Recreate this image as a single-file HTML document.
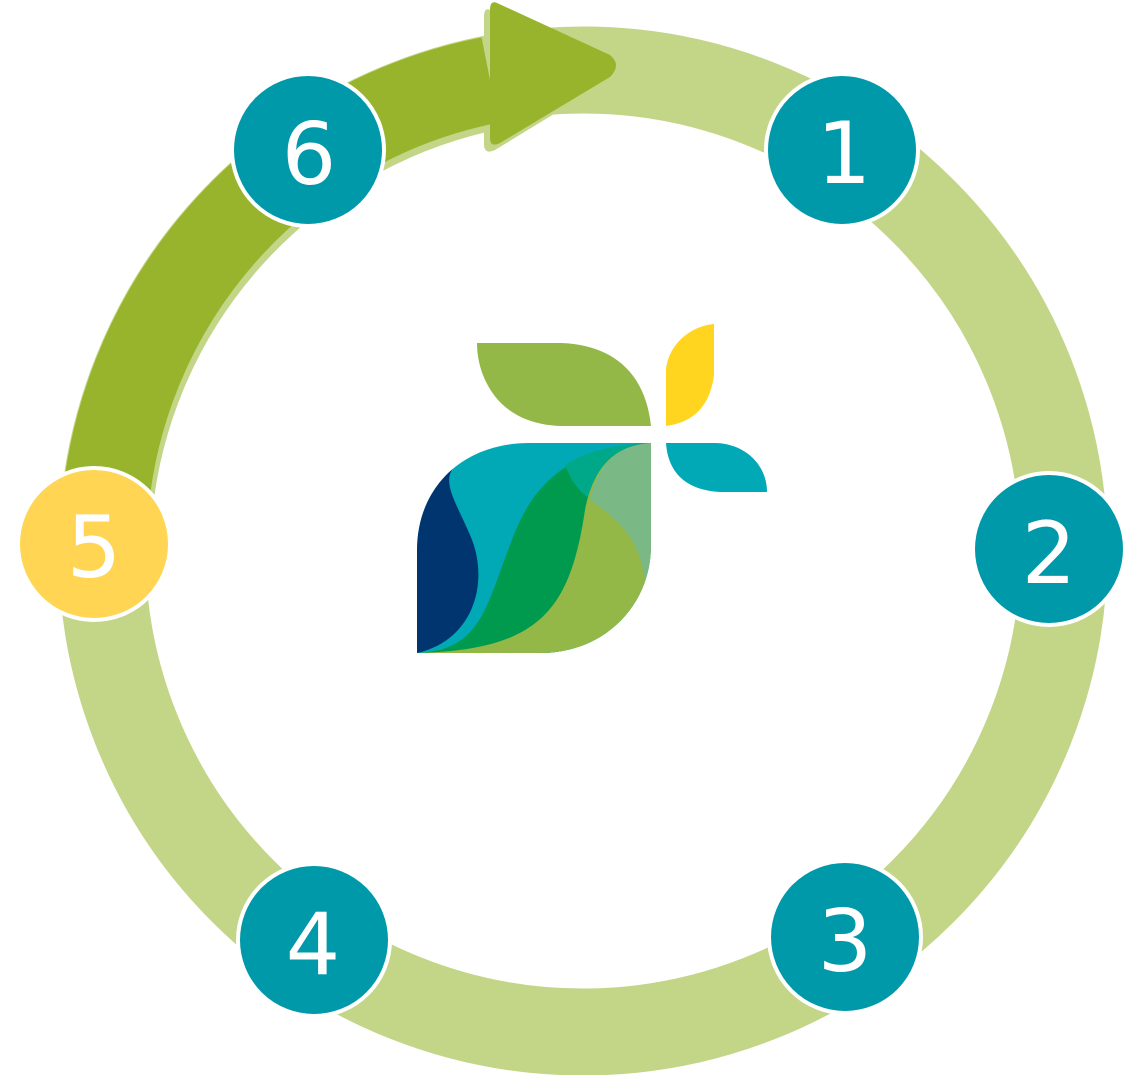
<!DOCTYPE html>
<html><head><meta charset="utf-8"><style>
html,body{margin:0;padding:0;background:#fff;width:1144px;height:1075px;overflow:hidden}
svg{display:block}
text{font-family:"DejaVu Sans","Liberation Sans",sans-serif;fill:#fff;font-size:86px;text-anchor:middle}
</style></head><body>
<svg width="1144" height="1075" viewBox="0 0 1144 1075" xmlns="http://www.w3.org/2000/svg">
<defs>
<clipPath id="body"><path d="M417,653 V550 C417,490 460,443 530,443 H651 V545 C651,605 605,653 540,653Z"/></clipPath>
</defs>
<circle cx="583" cy="551" r="481" fill="none" stroke="#c3d587" stroke-width="87"/>
<path d="M108,520 A480,480 0 0 1 494,86" fill="none" stroke="#c3d587" stroke-width="87"/>
<path d="M490,10 L603,62 Q615,72 603,84 L495,150 Q484,155 484,144 V17 Q484,7 490,10Z" fill="#c3d587"/>
<path d="M104,520 A480,480 0 0 1 490,80" fill="none" stroke="#98b42d" stroke-width="87"/>
<path d="M497,3 L610,55 Q622,65 610,77 L500,143 Q490,148 490,138 V10 Q490,0 497,3Z" fill="#98b42d"/>
<!-- logo -->
<path d="M477,343 H562 C610,345 645,370 651,426 H565 C530,426 510,413 498,400 C485,385 477,365 477,343Z" fill="#93b847"/>
<path d="M714,324 V375 C710,405 695,422 666,426 V370 C668,345 690,326 714,324Z" fill="#ffd520"/>
<path d="M666,443 H714 C745,443 767,465 767,492 H720 C685,490 668,472 666,443Z" fill="#00a9b5"/>
<g clip-path="url(#body)">
<rect x="410" y="440" width="250" height="220" fill="#00a9b5"/>
<path d="M417,653 C480,650 485,610 510,545 C530,490 560,450 650,443 V653Z" fill="#009a4e"/>
<path d="M565,465 C575,490 585,495 592,500 C600,455 625,445 651,443 C610,445 585,452 565,465Z" fill="#00a88a"/>
<path d="M417,653 C540,650 570,610 585,510 C595,460 620,445 652,443 V653 Z" fill="#93b847"/>
<path d="M590,500 C600,455 625,445 651,443 V580 L645,580 C638,530 610,515 590,500Z" fill="#7ab885"/>
<path d="M417,653 V550 C417,510 435,480 456,465 C440,480 455,500 470,535 C490,580 475,640 417,653Z" fill="#003570"/>
</g>
<!-- circles -->
<g stroke="#fff" stroke-width="4">
<circle cx="842" cy="150" r="76" fill="#0099a9"/>
<circle cx="1049" cy="549" r="76" fill="#0099a9"/>
<circle cx="845" cy="937" r="76" fill="#0099a9"/>
<circle cx="314" cy="940" r="76" fill="#0099a9"/>
<circle cx="94" cy="544" r="76" fill="#ffd553"/>
<circle cx="308" cy="150" r="76" fill="#0099a9"/>
</g>
<text x="844" y="183">1</text>
<text x="1049" y="583">2</text>
<text x="845" y="971">3</text>
<text x="313" y="974">4</text>
<text x="94" y="577">5</text>
<text x="309" y="184">6</text>
</svg>
</body></html>
